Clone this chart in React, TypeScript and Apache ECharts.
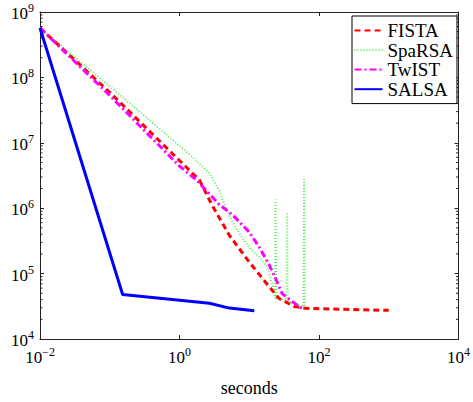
import React, { useEffect, useRef } from "react";
import * as echarts from "echarts";

const FONT = "'Liberation Serif', 'Times New Roman', Times, serif";

const seriesNames = ["FISTA", "SpaRSA", "TwIST", "SALSA"];

const fistaX = [0.01, 0.1, 1.93, 2.96, 5.18, 10, 19.3, 26.8, 44, 64.5, 1000];
const fistaY = [5.7e8, 5.9e7, 2.7e6, 1.09e6, 3.86e5, 1.5e5, 6.3e4, 4.16e4, 3.15e4, 2.94e4, 2.74e4];

const sparsaX = [0.01, 0.1, 1.25, 2.68, 3.73, 4.85, 6.74, 10, 13.9, 18, 22, 23.5, 23.8, 24.3, 34.3, 34.9, 35.7, 60.1, 61.1, 62.1];
const sparsaY = [5.7e8, 7.3e7, 7.4e6, 3.45e6, 1.84e6, 8.6e5, 4.6e5, 2.5e5, 1.8e5, 1.27e5, 6.3e4, 4.2e4, 1.36e6, 4.2e4, 4.0e4, 8.6e5, 3.75e4, 3.15e4, 2.76e6, 3.04e4];

const twistX = [0.01, 0.1, 1, 1.75, 3.73, 5.7, 10, 13.9, 19.3, 24.3, 29.6, 41, 57];
const twistY = [5.7e8, 5.3e7, 4.4e6, 2.7e6, 1.13e6, 8e5, 4.3e5, 2.54e5, 1.36e5, 8.06e4, 4.95e4, 3.75e4, 2.94e4];

const salsaX = [0.01, 0.153, 2.68, 5.18, 11.8];
const salsaY = [5.7e8, 4.8e4, 3.53e4, 2.97e4, 2.71e4];

const xMin = 0.01;
const xMax = 10000;
const yMin = 1e4;
const yMax = 1e9;
const xLabelExponents = [-2, 0, 2, 4];
const yMinorMultipliers = [2, 3, 4, 5, 6, 7, 8, 9];

const zip = (xs: number[], ys: number[]) => xs.map((x, i) => [x, ys[i]]);

const expLabel = (v: number) => {
  const e = Math.round(Math.log10(v));
  const s = e < 0 ? "\u2212" + Math.abs(e) : String(e);
  return `{b|10}{s|${s}}`;
};

const rich = {
  b: { fontSize: 17, fontFamily: FONT, color: "#000", verticalAlign: "bottom", lineHeight: 18 },
  s: { fontSize: 12, fontFamily: FONT, color: "#000", verticalAlign: "bottom", padding: [0, 0, 8, 0] },
};

export default function App() {
  const ref = useRef<HTMLDivElement>(null);
  useEffect(() => {
    if (!ref.current) return;
    const chart = echarts.init(ref.current, null, { renderer: "svg" });
    const axisLine = { show: true, lineStyle: { color: "#222", width: 1 } };
    const option: any = {
      animation: false,
      backgroundColor: "#fff",
      textStyle: { fontFamily: FONT },
      grid: { left: 40, right: 12, top: 12, bottom: 59, containLabel: false },
      legend: {
        data: seriesNames,
        orient: "vertical",
        left: 352,
        top: 16,
        padding: [4.6, 4, 4.6, 1.5],
        itemWidth: 28,
        itemHeight: 14,
        itemGap: 0,
        borderColor: "#000",
        borderWidth: 1,
        backgroundColor: "#fff",
        itemStyle: { opacity: 0 },
        lineStyle: { opacity: 1 },
        textStyle: { fontFamily: FONT, fontSize: 19, color: "#000", lineHeight: 19.6 },
      },
      xAxis: [
        {
          type: "log",
          logBase: 10,
          min: xMin,
          max: xMax,
          interval: 2,
          axisLine,
          axisTick: { show: true, inside: true, length: 4, lineStyle: { color: "#222" } },
          splitLine: { show: false },
          axisLabel: {
            margin: 7,
            fontFamily: FONT,
            formatter: (v: number) => (xLabelExponents.includes(Math.round(Math.log10(v))) ? expLabel(v) : ""),
            rich,
          },
          name: "seconds",
          nameLocation: "middle",
          nameGap: 40,
          nameTextStyle: { fontFamily: FONT, fontSize: 18, color: "#000" },
        },
        {
          type: "log",
          logBase: 10,
          min: xMin,
          max: xMax,
          interval: 2,
          position: "top",
          axisLine,
          axisTick: { show: true, inside: true, length: 4, lineStyle: { color: "#222" } },
          axisLabel: { show: false },
          splitLine: { show: false },
        },
      ],
      yAxis: [
        {
          type: "log",
          logBase: 10,
          min: yMin,
          max: yMax,
          interval: 1,
          axisLine,
          axisTick: { show: true, inside: true, length: 4, lineStyle: { color: "#222" } },
          splitLine: { show: false },
          axisLabel: { margin: 6, fontFamily: FONT, formatter: expLabel, rich },
        },
        {
          type: "log",
          logBase: 10,
          min: yMin,
          max: yMax,
          interval: 1,
          position: "right",
          axisLine,
          axisTick: { show: true, inside: true, length: 4, lineStyle: { color: "#222" } },
          axisLabel: { show: false },
          splitLine: { show: false },
        },
      ],
      series: [
        {
          name: "FISTA",
          type: "line",
          data: zip(fistaX, fistaY),
          symbol: "none",
          color: "#ff0000",
          lineStyle: { color: "#ff0000", width: 3, type: [6, 4] },
          z: 3,
        },
        {
          name: "SpaRSA",
          type: "line",
          data: zip(sparsaX, sparsaY),
          symbol: "none",
          color: "#55ee55",
          lineStyle: { color: "#55ee55", width: 2, type: [1, 2] },
          z: 2,
        },
        {
          name: "TwIST",
          type: "line",
          data: zip(twistX, twistY),
          symbol: "none",
          color: "#ff00ff",
          lineStyle: { color: "#ff00ff", width: 3, type: [7, 3, 2, 3] },
          z: 4,
        },
        {
          name: "SALSA",
          type: "line",
          data: zip(salsaX, salsaY),
          symbol: "none",
          color: "#0000ff",
          lineStyle: { color: "#0000ff", width: 3, type: "solid" },
          z: 5,
        },
      ],
    };
    chart.setOption(option);

    // minor log ticks on left and right y axes
    const xl = chart.convertToPixel({ xAxisIndex: 0 }, xMin) as number;
    const xr = chart.convertToPixel({ xAxisIndex: 0 }, xMax) as number;
    const ticks: any[] = [];
    for (let d = 4; d < 9; d++) {
      for (const m of yMinorMultipliers) {
        const y = chart.convertToPixel({ yAxisIndex: 0 }, m * Math.pow(10, d)) as number;
        ticks.push({ type: "line", shape: { x1: xl, y1: y, x2: xl + 2.5, y2: y }, style: { stroke: "#222", lineWidth: 1 }, silent: true });
        ticks.push({ type: "line", shape: { x1: xr - 2.5, y1: y, x2: xr, y2: y }, style: { stroke: "#222", lineWidth: 1 }, silent: true });
      }
    }
    chart.setOption({ graphic: ticks });

    return () => chart.dispose();
  }, []);
  return <div ref={ref} style={{ position: "fixed", left: 0, top: 0, width: 473, height: 402 }} />;
}
